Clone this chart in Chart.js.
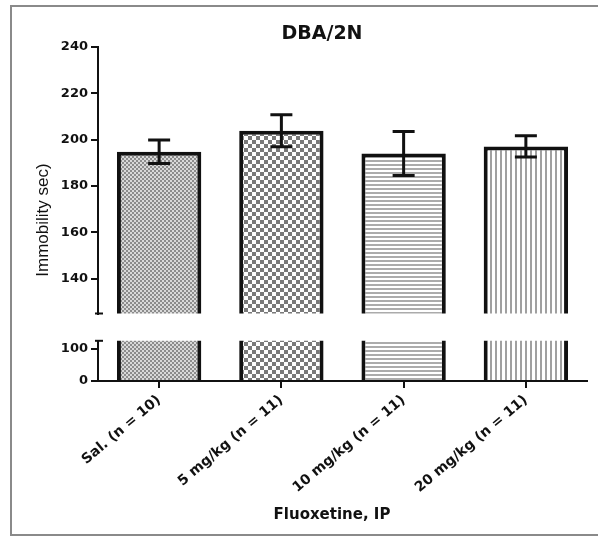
<!DOCTYPE html>
<html>
<head>
<meta charset="utf-8">
<script src="https://cdn.jsdelivr.net/npm/chart.js@4.4.1/dist/chart.umd.min.js"></script>
<style>
  html, body { margin: 0; padding: 0; background: #fff; }
  body { width: 598px; height: 538px; position: relative; overflow: hidden; }
  #frame { position: absolute; left: 10px; top: 5px; width: 620px; height: 531px; border: 2px solid #8a8a8a; box-sizing: border-box; }
  canvas { position: absolute; left: 0; }
  #upper { top: 0; }
  #lower { top: 330px; }
</style>
</head>
<body>
<div id="frame"></div>
<canvas id="upper" width="598" height="330"></canvas>
<canvas id="lower" width="598" height="208"></canvas>
<script>
// Data
const categories = ['Sal. (n = 10)', '5 mg/kg (n = 11)', '10 mg/kg (n = 11)', '20 mg/kg (n = 11)'];
const means = [194.8, 203.9, 194.0, 197.1];
const sem = [5.1, 6.9, 9.5, 4.6];
const upperTicks = [140, 160, 180, 200, 220, 240];
const lowerTicks = [0, 100];

const INK = '#111';
const boldFont = size => ({ family: 'DejaVu Sans', weight: 'bold', size: size });

// Fill patterns for the four bars
function makePattern(w, h, draw) {
    const c = document.createElement('canvas');
    c.width = w;
    c.height = h;
    const g = c.getContext('2d');
    g.fillStyle = '#fff';
    g.fillRect(0, 0, w, h);
    draw(g);
    return g.createPattern(c, 'repeat');
}

const patterns = [
    makePattern(4, 4, g => {
        g.fillStyle = '#d9d9d9';
        g.fillRect(0, 0, 4, 4);
        g.fillStyle = '#8c8c8c';
        g.fillRect(0, 0, 2, 2);
        g.fillRect(2, 2, 2, 2);
    }),
    makePattern(8, 8, g => {
        g.fillStyle = '#7a7a7a';
        g.fillRect(0, 0, 4, 4);
        g.fillRect(4, 4, 4, 4);
    }),
    makePattern(1, 4, g => {
        g.fillStyle = '#ababab';
        g.fillRect(0, 0, 1, 2);
    }),
    makePattern(5, 1, g => {
        g.fillStyle = '#a0a0a0';
        g.fillRect(0, 0, 2, 1);
    })
];

function barDataset() {
    return {
        data: means,
        backgroundColor: patterns,
        borderColor: INK,
        borderWidth: 4,
        borderSkipped: 'start',
        barPercentage: 0.69,
        categoryPercentage: 1,
        clip: 0
    };
}

// Error bars (mean +/- sem)
const errorBars = {
    id: 'errorBars',
    afterDatasetsDraw(chart) {
        const ctx = chart.ctx;
        const y = chart.scales.y;
        const meta = chart.getDatasetMeta(0);
        ctx.save();
        ctx.strokeStyle = INK;
        ctx.lineWidth = 3;
        meta.data.forEach((bar, i) => {
            const top = y.getPixelForValue(means[i] + sem[i]);
            const bot = y.getPixelForValue(means[i] - sem[i]);
            const half = 11;
            ctx.beginPath();
            ctx.moveTo(bar.x, top);
            ctx.lineTo(bar.x, bot);
            ctx.moveTo(bar.x - half, top);
            ctx.lineTo(bar.x + half, top);
            ctx.moveTo(bar.x - half, bot);
            ctx.lineTo(bar.x + half, bot);
            ctx.stroke();
        });
        ctx.restore();
    }
};

// Small caps where the y axis is broken
function axisCap(edge) {
    return {
        id: 'axisCap',
        afterDraw(chart) {
            const a = chart.chartArea;
            const ctx = chart.ctx;
            const yy = edge === 'bottom' ? a.bottom : a.top;
            ctx.save();
            ctx.strokeStyle = INK;
            ctx.lineWidth = 2;
            ctx.beginPath();
            ctx.moveTo(a.left - 3, yy);
            ctx.lineTo(a.left + 5, yy);
            ctx.stroke();
            ctx.restore();
        }
    };
}

// Titles drawn as text
function textPlugin(items) {
    return {
        id: 'texts',
        afterDraw(chart) {
            const ctx = chart.ctx;
            items.forEach(t => {
                ctx.save();
                ctx.fillStyle = INK;
                ctx.font = t.font;
                ctx.textAlign = 'center';
                ctx.textBaseline = 'middle';
                ctx.translate(t.x, t.y);
                if (t.rotate) ctx.rotate(t.rotate);
                ctx.fillText(t.text, 0, 0);
                ctx.restore();
            });
        }
    };
}

function yScale(min, max, tickList) {
    return {
        min: min,
        max: max,
        afterBuildTicks: s => { s.ticks = tickList.map(v => ({ value: v })); },
        afterFit: s => { s.width = 98; },
        grid: { drawOnChartArea: false, color: INK, lineWidth: 2, tickLength: 7 },
        border: { color: INK, width: 2 },
        ticks: { color: INK, font: boldFont(13), padding: 3 }
    };
}

const common = {
    responsive: false,
    animation: false,
    plugins: { legend: { display: false }, tooltip: { enabled: false } }
};

// Upper segment of the broken axis
new Chart(document.getElementById('upper'), {
    type: 'bar',
    data: { labels: categories, datasets: [barDataset()] },
    options: {
        ...common,
        layout: { padding: { top: 47, bottom: 16.5, left: 0, right: 11 } },
        scales: {
            x: { display: false, offset: true },
            y: yScale(125, 240, upperTicks)
        }
    },
    plugins: [errorBars, axisCap('bottom'), textPlugin([
        { text: 'DBA/2N', x: 322, y: 34, font: 'bold 19px "DejaVu Sans"' },
        { text: 'Immobility sec)', x: 43, y: 220, rotate: -Math.PI / 2, font: '17px "Liberation Sans"' }
    ])]
});

// Lower segment with the category axis
new Chart(document.getElementById('lower'), {
    type: 'bar',
    data: { labels: categories, datasets: [barDataset()] },
    options: {
        ...common,
        layout: { padding: { top: 10, bottom: 0, left: 0, right: 11 } },
        scales: {
            x: {
                offset: true,
                afterFit: s => { s.height = 157; },
                grid: { drawOnChartArea: false, offset: false, color: INK, lineWidth: 2, tickLength: 7 },
                border: { color: INK, width: 2 },
                ticks: { color: INK, font: boldFont(14), minRotation: 40, maxRotation: 40, autoSkip: false, padding: 4 }
            },
            y: yScale(0, 124, lowerTicks)
        }
    },
    plugins: [axisCap('top'), textPlugin([
        { text: 'Fluoxetine, IP', x: 332, y: 185, font: 'bold 15px "DejaVu Sans"' }
    ])]
});
</script>
</body>
</html>
